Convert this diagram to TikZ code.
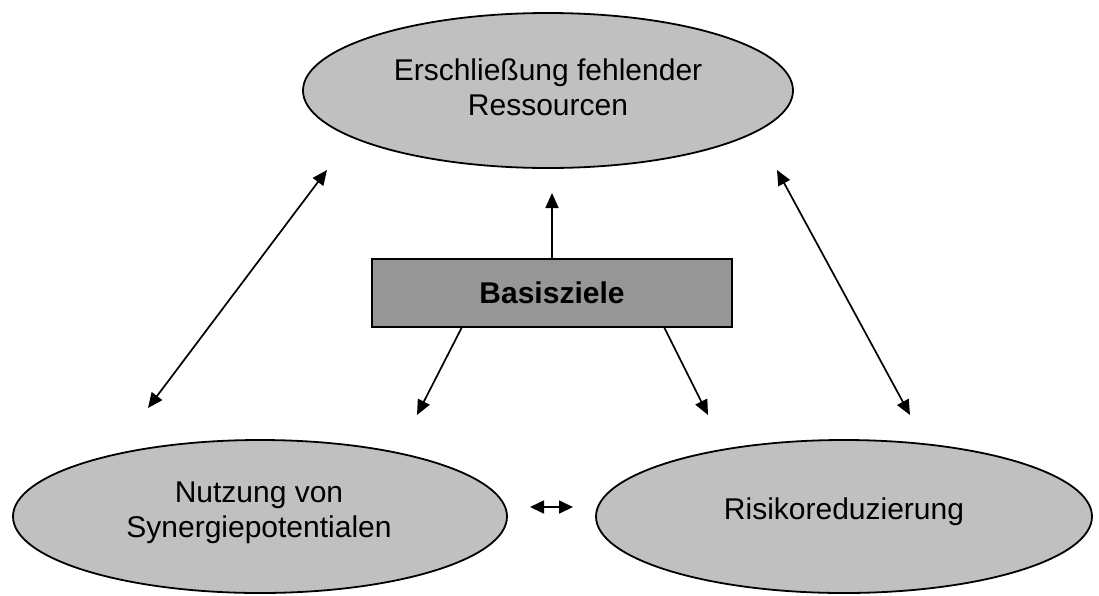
\documentclass[tikz,border=0pt]{standalone}
\usepackage{fontspec}
\setmainfont{Liberation Sans}
\usetikzlibrary{arrows.meta,shapes.geometric}
\definecolor{ellfill}{HTML}{C0C0C0}
\definecolor{boxfill}{HTML}{969696}
\begin{document}
\begin{tikzpicture}[x=1pt,y=-1pt,
  ell/.style={ellipse,draw=black,line width=1.8pt,fill=ellfill,inner sep=0pt},
  lbl/.style={align=center,font=\fontsize{30}{35}\selectfont,inner sep=0pt},
  goalbox/.style={rectangle,draw=black,line width=1.8pt,fill=boxfill,minimum width=360pt,minimum height=68pt,inner sep=0pt,font=\fontsize{30}{35}\selectfont\bfseries},
  conn/.style={line width=1.7pt,-{Triangle[length=15pt,width=13pt]}},
  dconn/.style={line width=1.7pt,{Triangle[length=15pt,width=13pt]}-{Triangle[length=15pt,width=13pt]}},
  sconn/.style={line width=1.7pt,{Triangle[length=14pt,width=13pt]}-{Triangle[length=14pt,width=13pt]}}]
\useasboundingbox[fill=white] (0,0) rectangle (1099,595);
% ellipses
\node[ell,minimum width=490pt,minimum height=155pt] (top) at (548,90.5) {};
\node[lbl] (toptxt) at (548,87) {Erschließung fehlender\\Ressourcen};
\node[ell,minimum width=494pt,minimum height=153pt] (left) at (260,516.5) {};
\node[lbl] (lefttxt) at (259,513) {Nutzung von\\Synergiepotentialen};
\node[ell,minimum width=496pt,minimum height=153pt] (right) at (844,516.5) {};
\node[lbl] (righttxt) at (844,512) {Risikoreduzierung};
% box
\node[goalbox] (basis) at (552,293) {Basisziele};
% arrow end points
\coordinate (tl) at (327,170);
\coordinate (bl) at (148,408);
\coordinate (tr) at (777,170);
\coordinate (br) at (910,415);
\coordinate (up) at (552,193);
\coordinate (ls) at (462,327);
\coordinate (le) at (417,415);
\coordinate (rs) at (664,327);
\coordinate (re) at (708,415);
\coordinate (ma) at (530,507);
\coordinate (mb) at (573,507);
% connectors
\draw[dconn] (bl) -- (tl);
\draw[dconn] (tr) -- (br);
\draw[conn] (basis.north) -- (up);
\draw[conn] (ls) -- (le);
\draw[conn] (rs) -- (re);
\draw[sconn] (ma) -- (mb);
\end{tikzpicture}
\end{document}
